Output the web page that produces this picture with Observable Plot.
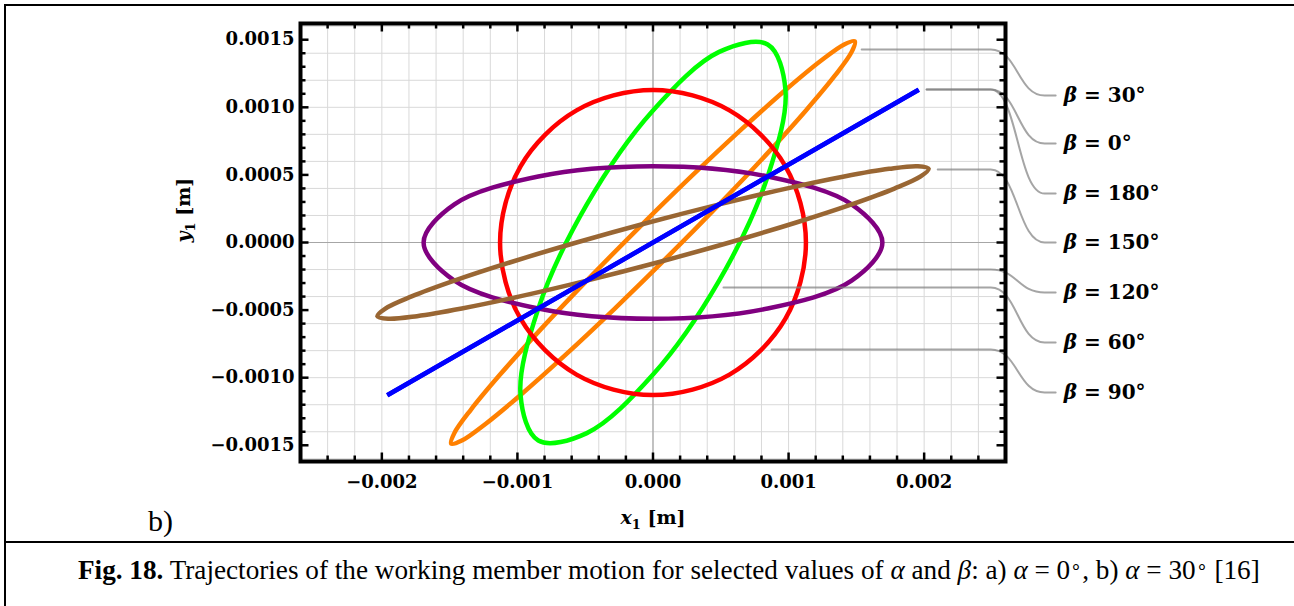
<!DOCTYPE html>
<html><head><meta charset="utf-8">
<script src="https://cdn.jsdelivr.net/npm/d3@7"></script>
<script src="https://cdn.jsdelivr.net/npm/@observablehq/plot@0.6"></script>
<style>
body{margin:0;background:#fff;}
#page{position:relative;width:1294px;height:606px;overflow:hidden;background:#fff;}
#box{position:absolute;left:4px;top:4px;width:1400px;height:700px;border-left:2px solid #000;border-top:2px solid #000;}
#sep{position:absolute;left:4px;top:541px;width:1400px;height:2px;background:#000;}
#chart{position:absolute;left:0;top:0;}
#panel{position:absolute;left:148px;top:506px;font:30px/1 "Liberation Serif","Times New Roman",serif;}
#caption{position:absolute;left:78px;top:557px;font:27.2px/1 "Liberation Serif","Times New Roman",serif;white-space:nowrap;}
#caption .deg{font-size:0.7em;vertical-align:0.3em;}
</style></head>
<body>
<div id="page">
<div id="box"></div>
<div id="chart"></div>
<div id="sep"></div>
<div id="panel">b)</div>
<div id="caption"><b>Fig. 18.</b> Trajectories of the working member motion for selected values of <i>α</i> and <i>β</i>: a) <i>α</i> = 0<span class="deg">∘</span>, b) <i>α</i> = 30<span class="deg">∘</span> [16]</div>
</div>
<script>
// ---- trajectory points (millimetres) ----
const beta0 = [[-1.96, -1.13], [1.96, 1.13]];
const beta180 = [[-1.96, -1.13], [1.96, 1.13]];
const beta30 = [[1.4885,1.4885],[1.4101,1.4653],[1.2357,1.3425],[0.9770,1.1280],[0.6518,0.8368],[0.2820,0.4884],[-0.1068,0.1068],[-0.4884,-0.2820],[-0.8368,-0.6518],[-1.1280,-0.9770],[-1.3425,-1.2357],[-1.4653,-1.4101],[-1.4885,-1.4885],[-1.4101,-1.4653],[-1.2357,-1.3425],[-0.9770,-1.1280],[-0.6518,-0.8368],[-0.2820,-0.4884],[0.1068,-0.1068],[0.4884,0.2820],[0.8368,0.6518],[1.1280,0.9770],[1.3425,1.2357],[1.4653,1.4101]];
const beta60 = [[0.846,1.465],[0.488,1.410],[0.000,0.977],[-0.488,0.282],[-0.846,-0.489],[-0.977,-1.128],[-0.846,-1.465],[-0.488,-1.410],[0.000,-0.977],[0.488,-0.282],[0.846,0.489],[0.977,1.128]];
const beta90 = [[1.128,0],[0.977,0.564],[0.564,0.977],[0,1.128],[-0.564,0.977],[-0.977,0.564],[-1.128,0],[-0.977,-0.564],[-0.564,-0.977],[0,-1.128],[0.564,-0.977],[0.977,-0.564]];
const beta120 = [[1.692,0],[1.465,0.282],[0.846,0.488],[0,0.564],[-0.846,0.488],[-1.465,0.282],[-1.692,0],[-1.465,-0.282],[-0.846,-0.488],[0,-0.564],[0.846,-0.488],[1.465,-0.282]];
const beta150 = [[2.0332,0.5448],[1.9538,0.5640],[1.7412,0.5448],[1.4101,0.4884],[0.9827,0.3988],[0.4884,0.2819],[-0.0391,0.1459],[-0.5640,-0.0001],[-1.0505,-0.1460],[-1.4653,-0.2820],[-1.7804,-0.3988],[-1.9740,-0.4884],[-2.0332,-0.5448],[-1.9538,-0.5640],[-1.7412,-0.5448],[-1.4101,-0.4884],[-0.9827,-0.3988],[-0.4884,-0.2819],[0.0391,-0.1459],[0.5640,0.0001],[1.0505,0.1460],[1.4653,0.2820],[1.7804,0.3988],[1.9740,0.4884]];

// ---- callouts (millimetres) ----
const calloutBeta    = [30, 0, 180, 150, 120, 60, 90];
const calloutAnchorX = [1.539, 2.018, 2.018, 2.100, 1.649, 0.520, 0.875];
const calloutAnchorY = [1.428, 1.132, 1.132, 0.540, -0.200, -0.333, -0.791];
const calloutLabelY  = [1.087, 0.732, 0.362, 0.000, -0.370, -0.740, -1.109];
const leaderBendX = [2.491, 2.889, 2.970];   // start of bend, end of bend, end of leader
const labelX = 3.03;

// ---- axes ----
const xMajor = [-0.002, -0.001, 0, 0.001, 0.002];
const yMajor = [-0.0015, -0.001, -0.0005, 0, 0.0005, 0.001, 0.0015];
const xMinor = d3.range(-12, 13).map(i => i * 0.0002);
const yMinor = d3.range(-15, 16).map(i => i * 0.0001);
const xGrid = d3.range(-12, 13).map(i => i * 0.0002);
const yGrid = d3.range(-8, 9).map(i => i * 0.0002);

const colors = {0: "#0000ff", 30: "#ff8000", 60: "#00ff00", 90: "#ff0000", 120: "#800080", 150: "#996633", 180: "#0000ff"};
const drawOrder = [30, 60, 90, 120, 150, 180, 0];
const ptsByBeta = {0: beta0, 30: beta30, 60: beta60, 90: beta90, 120: beta120, 150: beta150, 180: beta180};

const W = 1294, H = 541;
const M = {top: 23, right: 289, bottom: 80, left: 300};
const innerW = W - M.left - M.right, innerH = H - M.top - M.bottom;
const mm = v => v / 1000;

const curveMarks = drawOrder.map(b => {
  const rows = ptsByBeta[b].map(([x, y]) => ({x: mm(x), y: mm(y)}));
  const closed = ptsByBeta[b].length > 2;
  return Plot.line(rows, {x: "x", y: "y", stroke: colors[b], strokeWidth: 4.5,
    curve: closed ? "catmull-rom-closed" : "linear", strokeLinejoin: "round", strokeLinecap: "butt"});
});

const leaderRows = calloutBeta.flatMap((b, i) => [
  {k: i, x: mm(calloutAnchorX[i]), y: mm(calloutAnchorY[i])},
  {k: i, x: mm(leaderBendX[0]), y: mm(calloutAnchorY[i])},
  {k: i, x: mm(leaderBendX[1]), y: mm(calloutLabelY[i])},
  {k: i, x: mm(leaderBendX[2]), y: mm(calloutLabelY[i])}
]);
const labelRows = calloutBeta.map((b, i) => ({text: `β = ${b}°`, x: mm(labelX), y: mm(calloutLabelY[i])}));

const xMajorSet = new Set(xMajor.map(v => v.toFixed(4)));
const yMajorSet = new Set(yMajor.map(v => v.toFixed(4)));
const xMinorOnly = xMinor.filter(v => !xMajorSet.has(v.toFixed(4)));
const yMinorOnly = yMinor.filter(v => !yMajorSet.has(v.toFixed(4)));
const minorLen = 5.5, majorLen = 8.5, tickW = 2.5;

const svg = Plot.plot({
  width: W, height: H,
  marginTop: M.top, marginRight: M.right, marginBottom: M.bottom, marginLeft: M.left,
  x: {domain: [-0.0026, 0.0026]},
  y: {domain: [-0.00162, 0.00162]},
  style: {background: "transparent", fontFamily: "'DejaVu Serif', serif", fontWeight: "bold", fontSize: "18px", overflow: "visible", color: "black"},
  marks: [
    Plot.gridX(xGrid, {stroke: "#d9d9d9", strokeOpacity: 1, strokeWidth: 1}),
    Plot.gridY(yGrid, {stroke: "#d9d9d9", strokeOpacity: 1, strokeWidth: 1}),
    Plot.ruleX([0], {stroke: "#a6a6a6", strokeWidth: 1.2}),
    Plot.ruleY([0], {stroke: "#a6a6a6", strokeWidth: 1.2}),
    ...curveMarks,
    Plot.line(leaderRows, {x: "x", y: "y", z: "k", stroke: "#7f7f7f", strokeOpacity: 0.7, strokeWidth: 2, curve: "bump-x"}),
    Plot.frame({stroke: "black", strokeWidth: 4}),
    Plot.tickX(xMinorOnly, {x: d => d, stroke: "black", strokeWidth: tickW, insetTop: innerH - minorLen}),
    Plot.tickX(xMajor, {x: d => d, stroke: "black", strokeWidth: tickW, insetTop: innerH - majorLen}),
    Plot.tickX(xMinorOnly, {x: d => d, stroke: "black", strokeWidth: tickW, insetBottom: innerH - minorLen}),
    Plot.tickX(xMajor, {x: d => d, stroke: "black", strokeWidth: tickW, insetBottom: innerH - majorLen}),
    Plot.tickY(yMinorOnly, {y: d => d, stroke: "black", strokeWidth: tickW, insetRight: innerW - minorLen}),
    Plot.tickY(yMajor, {y: d => d, stroke: "black", strokeWidth: tickW, insetRight: innerW - majorLen}),
    Plot.tickY(yMinorOnly, {y: d => d, stroke: "black", strokeWidth: tickW, insetLeft: innerW - minorLen}),
    Plot.tickY(yMajor, {y: d => d, stroke: "black", strokeWidth: tickW, insetLeft: innerW - majorLen}),
    Plot.axisX(xMajor, {anchor: "bottom", tickSize: 0, tickPadding: 14, tickFormat: d3.format(".3f"), label: null, fontSize: 18, fontWeight: "bold"}),
    Plot.axisY(yMajor, {anchor: "left", tickSize: 0, tickPadding: 6, tickFormat: d3.format(".4f"), label: null, fontSize: 18, fontWeight: "bold"}),
    Plot.text(["x1 [m]"], {text: d => d, frameAnchor: "bottom", dy: 62, fontSize: 19, fontWeight: "bold"}),
    Plot.text(["y1 [m]"], {text: d => d, frameAnchor: "left", dx: -117, rotate: -90, fontSize: 19, fontWeight: "bold"}),
    Plot.text(labelRows, {x: "x", y: "y", text: "text", textAnchor: "start", fontSize: 20, fontWeight: "bold"})
  ]
});
document.getElementById("chart").appendChild(svg);

d3.select(svg).selectAll("text").each(function () {
  const t = this.textContent;
  const s = d3.select(this);
  if (t.startsWith("β = ")) {
    s.text(null);
    s.append("tspan").attr("font-style", "italic").text("β");
    s.append("tspan").text(t.slice(1));
  } else if (t === "x1 [m]" || t === "y1 [m]") {
    s.text(null);
    s.append("tspan").attr("font-style", "italic").text(t.slice(0, 1));
    s.append("tspan").attr("font-size", 13).attr("dy", 5).text(t.slice(1, 2));
    s.append("tspan").attr("dy", -5).text(t.slice(2));
  }
});
</script>
</body></html>
